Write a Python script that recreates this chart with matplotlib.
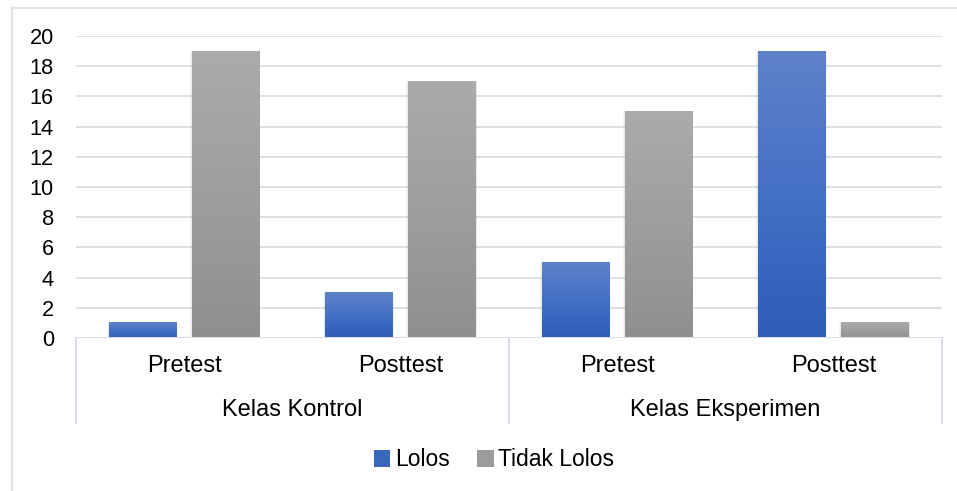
import matplotlib
matplotlib.use("Agg")
import matplotlib.pyplot as plt
import numpy as np
from matplotlib.patches import Rectangle, Patch
from matplotlib.colors import LinearSegmentedColormap
from matplotlib.lines import Line2D

plt.rcParams['font.family'] = ['Liberation Sans', 'DejaVu Sans']

groups = ["Kelas Kontrol", "Kelas Eksperimen"]
subcats = ["Pretest", "Posttest", "Pretest", "Posttest"]
series_names = ["Lolos", "Tidak Lolos"]
lolos = [1, 3, 5, 19]
tidak_lolos = [19, 17, 15, 1]
yticks = list(range(0, 21, 2))

W, H = 957, 491
fig = plt.figure(figsize=(W / 100, H / 100), dpi=100)
fig.patch.set_facecolor('white')

ax_l, ax_r, ax_t, ax_b = 76, 942, 36, 338
ax = fig.add_axes([ax_l / W, 1 - ax_b / H, (ax_r - ax_l) / W, (ax_b - ax_t) / H])
ax.set_xlim(-0.5, len(subcats) - 0.5)
ax.set_ylim(0, 20)
ax.set_yticks(yticks)
ax.tick_params(axis='y', length=0, pad=16, labelsize=15.7, labelcolor='#000000')
ax.set_xticks([])
for s in ax.spines.values():
    s.set_visible(False)
grid_c = '#D9DDE5'
ax.yaxis.grid(True, color=grid_c, linewidth=1.3)
ax.set_axisbelow(True)

blue_cmap = LinearSegmentedColormap.from_list('b', ['#2D5DB7', '#4470C6', '#5F82C9'])
grey_cmap = LinearSegmentedColormap.from_list('g', ['#8F8F8F', '#9E9E9E', '#ABABAB'])

bw = 0.314
off = 0.192
grad = np.linspace(0, 1, 256).reshape(-1, 1)

def gbar(x, h, cmap):
    x0, x1 = x - bw / 2, x + bw / 2
    # soft shadow
    for k, a in [(0.016, 0.035), (0.008, 0.05)]:
        ax.add_patch(Rectangle((x0 - k * 0.6, -0.25 - k * 4), bw + 1.2 * k * 0.6, h + 0.25 + k * 4,
                               facecolor='#000000', alpha=a, edgecolor='none', zorder=2))
    ax.imshow(grad, extent=(x0, x1, 0, h), origin='lower', cmap=cmap, aspect='auto', zorder=3)

x = np.arange(len(subcats))
for i in range(len(subcats)):
    gbar(x[i] - off, lolos[i], blue_cmap)
    gbar(x[i] + off, tidak_lolos[i], grey_cmap)
ax.set_xlim(-0.5, len(subcats) - 0.5)
ax.set_ylim(0, 20)
ax.axhline(0, color=grid_c, linewidth=1.5, zorder=4)

def fx(px):
    return px / W
def fy(py):
    return 1 - py / H

for i, lab in enumerate(subcats):
    xc = ax_l + (ax_r - ax_l) * (i + 0.5) / len(subcats)
    fig.text(fx(xc), fy(366), lab, ha='center', va='center', fontsize=17)
for g, lab in enumerate(groups):
    xc = ax_l + (ax_r - ax_l) * (2 * g + 1) / 4
    fig.text(fx(xc), fy(410), lab, ha='center', va='center', fontsize=17)
for xs in [ax_l, (ax_l + ax_r) / 2, ax_r]:
    fig.add_artist(Line2D([fx(xs), fx(xs)], [fy(338), fy(423)], color=grid_c, linewidth=1.5))

# outer border
fig.add_artist(Line2D([fx(11.5), fx(957)], [fy(7.5), fy(7.5)], color='#DDE1E8', linewidth=1.5))
fig.add_artist(Line2D([fx(11.5), fx(11.5)], [fy(7.5), fy(491)], color='#DDE1E8', linewidth=1.5))

handles = [Patch(facecolor='#3A66BE', edgecolor='none'), Patch(facecolor='#9C9C9C', edgecolor='none')]
fig.legend(handles, series_names, loc='center', bbox_to_anchor=(fx(494), fy(460)), ncol=2, frameon=False,
           fontsize=16.5, handlelength=0.72, handleheight=0.72, handletextpad=0.2, columnspacing=1.2)

fig.savefig('out.png', dpi=100, facecolor='white')
